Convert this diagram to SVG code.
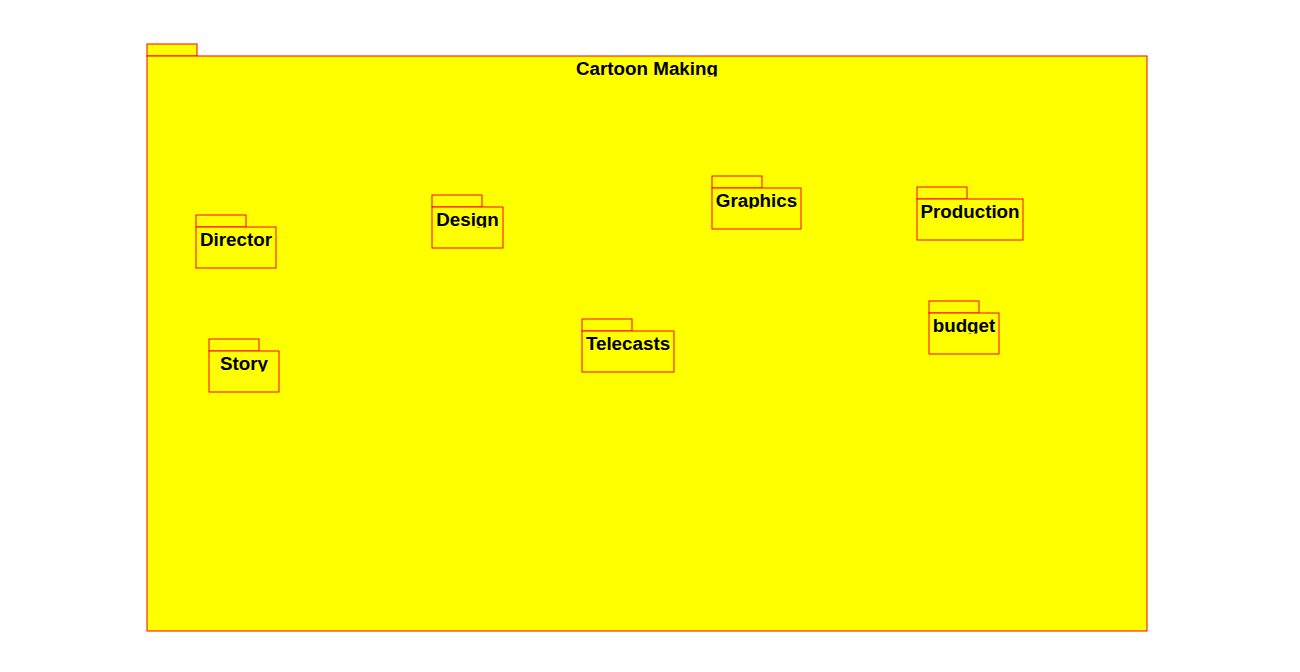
<svg xmlns="http://www.w3.org/2000/svg" width="1300" height="672" viewBox="0 0 1300 672">
<style>
.pk{fill:#ffff00;stroke:#ff0000;stroke-width:1}
.lb{font-family:"Liberation Sans",Arial,sans-serif;font-size:18.8px;font-weight:bold;fill:#000;text-anchor:middle}
</style>
<defs>
<clipPath id="cMain"><rect x="147" y="56" width="1000" height="20.5"/></clipPath>
<clipPath id="cDirector"><rect x="196" y="227" width="80" height="20.5"/></clipPath>
<clipPath id="cDesign"><rect x="432" y="207" width="71" height="20.5"/></clipPath>
<clipPath id="cGraphics"><rect x="712" y="188" width="89" height="20.5"/></clipPath>
<clipPath id="cProduction"><rect x="917" y="199" width="106" height="20.5"/></clipPath>
<clipPath id="cBudget"><rect x="929" y="313" width="70" height="20.5"/></clipPath>
<clipPath id="cTelecasts"><rect x="582" y="331" width="92" height="20.5"/></clipPath>
<clipPath id="cStory"><rect x="209" y="351" width="70" height="20.5"/></clipPath>
</defs>
<rect width="1300" height="672" fill="#ffffff"/>
<g id="cartoon-making">
<rect class="pk" x="147" y="44" width="50" height="12"/>
<rect class="pk" x="147" y="56" width="1000" height="575"/>
<text class="lb" x="647" y="74.5" clip-path="url(#cMain)">Cartoon Making</text>
</g>
<g id="director">
<rect class="pk" x="196" y="215" width="50" height="12"/>
<rect class="pk" x="196" y="227" width="80" height="41"/>
<text class="lb" x="236" y="246" clip-path="url(#cDirector)">Director</text>
</g>
<g id="design">
<rect class="pk" x="432" y="195" width="50" height="12"/>
<rect class="pk" x="432" y="207" width="71" height="41"/>
<text class="lb" x="467.5" y="226" clip-path="url(#cDesign)">Design</text>
</g>
<g id="graphics">
<rect class="pk" x="712" y="176" width="50" height="12"/>
<rect class="pk" x="712" y="188" width="89" height="41"/>
<text class="lb" x="756.5" y="207" clip-path="url(#cGraphics)">Graphics</text>
</g>
<g id="production">
<rect class="pk" x="917" y="187" width="50" height="12"/>
<rect class="pk" x="917" y="199" width="106" height="41"/>
<text class="lb" x="970" y="218" clip-path="url(#cProduction)">Production</text>
</g>
<g id="budget">
<rect class="pk" x="929" y="301" width="50" height="12"/>
<rect class="pk" x="929" y="313" width="70" height="41"/>
<text class="lb" x="964" y="332" clip-path="url(#cBudget)">budget</text>
</g>
<g id="telecasts">
<rect class="pk" x="582" y="319" width="50" height="12"/>
<rect class="pk" x="582" y="331" width="92" height="41"/>
<text class="lb" x="628" y="350" clip-path="url(#cTelecasts)">Telecasts</text>
</g>
<g id="story">
<rect class="pk" x="209" y="339" width="50" height="12"/>
<rect class="pk" x="209" y="351" width="70" height="41"/>
<text class="lb" x="244" y="370" clip-path="url(#cStory)">Story</text>
</g>
<g id="connectors"/>
</svg>
